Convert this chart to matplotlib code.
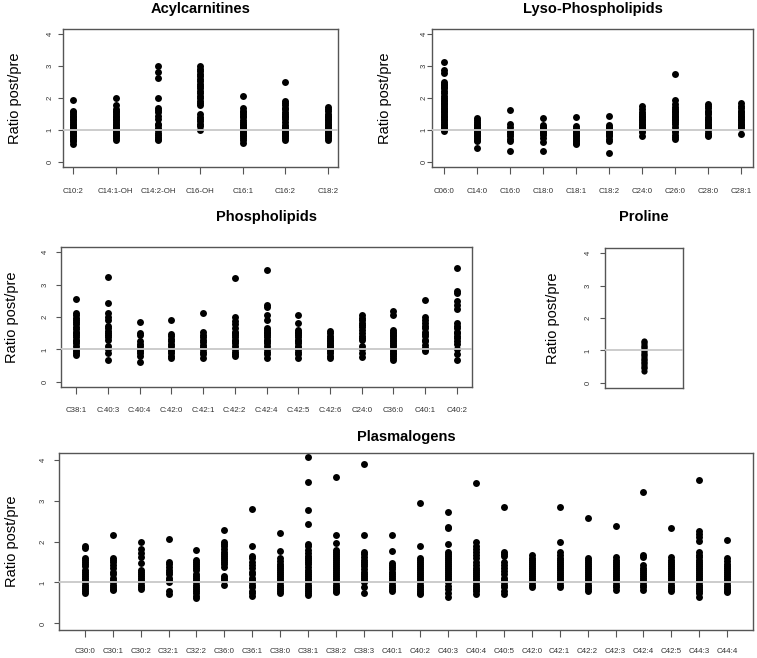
import matplotlib
matplotlib.use('Agg')
import matplotlib.pyplot as plt

plt.rcParams['font.family'] = ['Liberation Sans', 'DejaVu Sans']

# ---------------- data ----------------
acyl_labels = ["C10:2", "C14:1-OH", "C14:2-OH", "C16-OH", "C16:1", "C16:2", "C18:2"]
acyl_values = [
    [1.95, 1.6, 1.55, 1.5, 1.45, 1.4, 1.35, 1.3, 1.25, 1.2, 1.15, 1.1, 1.05, 1.0, 0.95, 0.9, 0.85, 0.8, 0.75, 0.7, 0.65, 0.55],
    [2.0, 1.78, 1.65, 1.6, 1.55, 1.5, 1.45, 1.4, 1.35, 1.3, 1.25, 1.2, 1.15, 1.1, 1.05, 1.0, 0.95, 0.9, 0.85, 0.8, 0.75, 0.68],
    [3.0, 2.8, 2.62, 2.0, 1.7, 1.62, 1.55, 1.45, 1.35, 1.2, 1.15, 1.05, 1.0, 0.9, 0.85, 0.78, 0.72, 0.68],
    [3.0, 2.92, 2.85, 2.75, 2.68, 2.6, 2.52, 2.45, 2.38, 2.3, 2.22, 2.15, 2.07, 2.0, 1.92, 1.85, 1.78, 1.5, 1.42, 1.35, 1.28, 1.2, 1.13, 1.0],
    [2.07, 1.68, 1.6, 1.55, 1.5, 1.45, 1.4, 1.3, 1.25, 1.2, 1.15, 1.1, 1.05, 1.0, 0.95, 0.9, 0.85, 0.8, 0.75, 0.7, 0.6],
    [2.5, 1.92, 1.85, 1.78, 1.7, 1.65, 1.55, 1.5, 1.45, 1.4, 1.35, 1.25, 1.15, 1.1, 1.05, 1.0, 0.95, 0.9, 0.85, 0.8, 0.75, 0.68],
    [1.72, 1.65, 1.58, 1.5, 1.45, 1.4, 1.35, 1.3, 1.25, 1.2, 1.15, 1.1, 1.05, 1.0, 0.95, 0.9, 0.85, 0.8, 0.75, 0.7],
]

lyso_labels = ["C06:0", "C14:0", "C16:0", "C18:0", "C18:1", "C18:2", "C24:0", "C26:0", "C28:0", "C28:1"]
lyso_values = [
    [3.12, 2.88, 2.78, 2.5, 2.45, 2.4, 2.35, 2.3, 2.22, 2.15, 2.05, 2.0, 1.95, 1.9, 1.85, 1.8, 1.75, 1.7, 1.65, 1.6, 1.55, 1.5, 1.45, 1.4, 1.35, 1.3, 1.25, 1.2, 1.15, 1.1, 1.05, 0.98],
    [1.36, 1.3, 1.25, 1.2, 1.15, 1.1, 1.05, 1.0, 0.95, 0.9, 0.85, 0.8, 0.75, 0.7, 0.65, 0.42],
    [1.62, 1.2, 1.1, 1.0, 0.93, 0.88, 0.8, 0.72, 0.65, 0.33],
    [1.38, 1.15, 1.1, 1.05, 1.0, 0.95, 0.9, 0.85, 0.75, 0.62, 0.35],
    [1.4, 1.12, 1.05, 1.0, 0.95, 0.9, 0.85, 0.8, 0.75, 0.7, 0.65, 0.6, 0.55],
    [1.45, 1.15, 1.1, 1.05, 1.0, 0.95, 0.9, 0.85, 0.8, 0.72, 0.65, 0.27],
    [1.74, 1.65, 1.55, 1.5, 1.45, 1.4, 1.35, 1.3, 1.25, 1.2, 1.15, 1.1, 1.05, 1.0, 0.95, 0.8],
    [2.75, 1.93, 1.8, 1.72, 1.65, 1.6, 1.55, 1.5, 1.45, 1.4, 1.35, 1.3, 1.25, 1.2, 1.1, 1.0, 0.95, 0.85, 0.78, 0.72],
    [1.82, 1.75, 1.68, 1.6, 1.55, 1.5, 1.42, 1.35, 1.3, 1.25, 1.2, 1.15, 1.1, 1.05, 1.0, 0.9, 0.85, 0.8],
    [1.85, 1.75, 1.68, 1.6, 1.55, 1.5, 1.45, 1.4, 1.35, 1.3, 1.25, 1.2, 1.15, 1.1, 1.05, 0.88],
]

phospho_labels = ["C38:1", "C:40:3", "C:40:4", "C:42:0", "C:42:1", "C:42:2", "C:42:4",
                  "C:42:5", "C:42:6", "C24:0", "C36:0", "C40:1", "C40:2"]
phospho_values = [
    [2.56, 2.12, 2.05, 1.98, 1.9, 1.85, 1.78, 1.7, 1.62, 1.55, 1.5, 1.45, 1.38, 1.3, 1.25, 1.2, 1.1, 1.0, 0.95, 0.88, 0.82],
    [3.22, 2.42, 2.13, 2.0, 1.9, 1.72, 1.65, 1.58, 1.5, 1.45, 1.38, 1.3, 1.1, 1.0, 0.9, 0.68],
    [1.85, 1.5, 1.45, 1.25, 1.18, 1.1, 1.0, 0.95, 0.88, 0.8, 0.6],
    [1.92, 1.47, 1.4, 1.32, 1.25, 1.18, 1.1, 1.0, 0.95, 0.88, 0.8, 0.74],
    [2.12, 1.53, 1.45, 1.38, 1.3, 1.22, 1.15, 1.08, 1.0, 0.92, 0.85, 0.75],
    [3.19, 2.0, 1.88, 1.78, 1.65, 1.55, 1.5, 1.45, 1.38, 1.3, 1.25, 1.2, 1.1, 1.0, 0.92, 0.85, 0.8],
    [3.45, 2.38, 2.3, 2.05, 1.9, 1.65, 1.6, 1.55, 1.5, 1.45, 1.38, 1.3, 1.25, 1.2, 1.1, 1.0, 0.92, 0.85, 0.75],
    [2.07, 1.83, 1.6, 1.55, 1.5, 1.45, 1.38, 1.3, 1.25, 1.2, 1.1, 1.05, 1.0, 0.92, 0.85, 0.75],
    [1.56, 1.5, 1.42, 1.35, 1.3, 1.25, 1.2, 1.15, 1.1, 1.05, 1.0, 0.95, 0.88, 0.8, 0.75],
    [2.05, 1.98, 1.9, 1.82, 1.75, 1.68, 1.6, 1.5, 1.42, 1.35, 1.28, 1.1, 1.0, 0.9, 0.78],
    [2.17, 2.05, 1.6, 1.55, 1.5, 1.45, 1.4, 1.35, 1.3, 1.25, 1.2, 1.15, 1.1, 1.0, 0.95, 0.9, 0.85, 0.8, 0.72, 0.68],
    [2.54, 2.0, 1.9, 1.8, 1.72, 1.65, 1.55, 1.48, 1.4, 1.3, 1.25, 1.15, 1.05, 1.0, 0.95],
    [3.5, 2.8, 2.73, 2.5, 2.38, 2.25, 1.8, 1.72, 1.65, 1.55, 1.5, 1.42, 1.35, 1.25, 1.18, 1.0, 0.85, 0.68],
]

proline_values = [1.3, 1.25, 1.2, 1.15, 1.1, 1.05, 1.0, 0.95, 0.9, 0.85, 0.8, 0.75, 0.7,
                  0.65, 0.6, 0.55, 0.5, 0.45, 0.35]

plasm_labels = ["C30:0", "C30:1", "C30:2", "C32:1", "C32:2", "C36:0", "C36:1", "C38:0",
                "C38:1", "C38:2", "C38:3", "C40:1", "C40:2", "C40:3", "C40:4", "C40:5",
                "C42:0", "C42:1", "C42:2", "C42:3", "C42:4", "C42:5", "C44:3", "C44:4"]
plasm_values = [
    [1.88, 1.83, 1.6, 1.55, 1.5, 1.45, 1.4, 1.3, 1.25, 1.2, 1.15, 1.1, 1.05, 1.0, 0.95, 0.9, 0.85, 0.8, 0.75],
    [2.16, 1.6, 1.55, 1.5, 1.42, 1.35, 1.25, 1.2, 1.12, 1.05, 1.0, 0.95, 0.9, 0.85, 0.82],
    [2.0, 1.82, 1.72, 1.62, 1.47, 1.3, 1.25, 1.2, 1.15, 1.1, 1.05, 1.0, 0.95, 0.9, 0.85],
    [2.06, 1.5, 1.45, 1.38, 1.3, 1.25, 1.2, 1.12, 1.05, 1.0, 0.8, 0.73],
    [1.8, 1.55, 1.5, 1.45, 1.4, 1.35, 1.3, 1.2, 1.15, 1.1, 1.05, 1.0, 0.95, 0.9, 0.85, 0.8, 0.75, 0.68, 0.62],
    [2.27, 2.0, 1.95, 1.88, 1.82, 1.75, 1.7, 1.65, 1.6, 1.55, 1.5, 1.45, 1.38, 1.15, 1.1, 1.05, 0.95],
    [2.8, 1.9, 1.65, 1.6, 1.5, 1.42, 1.35, 1.25, 1.2, 1.12, 1.05, 1.0, 0.95, 0.88, 0.8, 0.75, 0.68],
    [2.21, 1.78, 1.6, 1.52, 1.45, 1.4, 1.35, 1.3, 1.25, 1.2, 1.15, 1.1, 1.05, 1.0, 0.95, 0.9, 0.85, 0.8, 0.75],
    [4.06, 3.46, 2.78, 2.42, 1.95, 1.88, 1.8, 1.72, 1.65, 1.6, 1.55, 1.5, 1.45, 1.38, 1.3, 1.25, 1.2, 1.15, 1.1, 1.05, 1.0, 0.95, 0.9, 0.85, 0.8, 0.75, 0.7],
    [3.58, 2.17, 1.96, 1.8, 1.75, 1.7, 1.65, 1.6, 1.55, 1.5, 1.45, 1.4, 1.35, 1.3, 1.25, 1.2, 1.15, 1.1, 1.05, 1.0, 0.95, 0.9, 0.85, 0.8, 0.76],
    [3.88, 2.17, 1.75, 1.7, 1.62, 1.55, 1.5, 1.45, 1.4, 1.32, 1.25, 1.2, 1.15, 1.1, 1.05, 1.0, 0.9, 0.74],
    [2.17, 1.76, 1.47, 1.42, 1.38, 1.32, 1.25, 1.2, 1.15, 1.1, 1.05, 1.0, 0.95, 0.9, 0.85, 0.8],
    [2.95, 1.88, 1.6, 1.55, 1.5, 1.45, 1.4, 1.35, 1.3, 1.25, 1.2, 1.15, 1.1, 1.05, 1.0, 0.95, 0.9, 0.85, 0.8, 0.75, 0.71],
    [2.72, 2.35, 2.32, 1.94, 1.75, 1.7, 1.65, 1.6, 1.55, 1.5, 1.45, 1.4, 1.35, 1.3, 1.25, 1.2, 1.15, 1.1, 1.05, 1.0, 0.92, 0.85, 0.75, 0.65],
    [3.43, 1.98, 1.9, 1.82, 1.75, 1.68, 1.6, 1.5, 1.42, 1.35, 1.3, 1.25, 1.2, 1.15, 1.1, 1.05, 1.0, 0.95, 0.9, 0.85, 0.8, 0.72],
    [2.84, 1.75, 1.7, 1.65, 1.5, 1.42, 1.35, 1.28, 1.2, 1.12, 1.05, 1.0, 0.95, 0.88, 0.8, 0.72],
    [1.68, 1.6, 1.55, 1.5, 1.45, 1.4, 1.35, 1.3, 1.25, 1.2, 1.15, 1.1, 1.05, 1.0, 0.95, 0.9],
    [2.84, 1.98, 1.74, 1.68, 1.6, 1.55, 1.5, 1.45, 1.4, 1.35, 1.3, 1.25, 1.2, 1.15, 1.1, 1.05, 1.0, 0.95, 0.9],
    [2.57, 1.6, 1.55, 1.5, 1.45, 1.4, 1.35, 1.3, 1.25, 1.2, 1.15, 1.1, 1.05, 1.0, 0.95, 0.9, 0.85, 0.78],
    [2.38, 1.62, 1.55, 1.5, 1.45, 1.4, 1.35, 1.3, 1.25, 1.2, 1.15, 1.1, 1.05, 1.0, 0.95, 0.9, 0.82],
    [3.2, 1.68, 1.62, 1.42, 1.35, 1.3, 1.25, 1.2, 1.15, 1.1, 1.05, 1.0, 0.95, 0.9, 0.82],
    [2.32, 1.62, 1.55, 1.5, 1.45, 1.4, 1.35, 1.3, 1.25, 1.2, 1.15, 1.1, 1.05, 1.0, 0.95, 0.9, 0.85, 0.78],
    [3.5, 2.25, 2.18, 2.1, 2.02, 1.74, 1.68, 1.62, 1.55, 1.5, 1.45, 1.4, 1.35, 1.3, 1.25, 1.2, 1.15, 1.1, 1.05, 1.0, 0.95, 0.9, 0.85, 0.8, 0.75, 0.65],
    [2.04, 1.6, 1.52, 1.45, 1.4, 1.35, 1.3, 1.25, 1.2, 1.15, 1.1, 1.05, 1.0, 0.95, 0.9, 0.85, 0.8, 0.76],
]

y_ticks = [0, 1, 2, 3, 4]
y_label = "Ratio post/pre"
ref_level = 1

# ---------------- layout ----------------
W, H = 757, 658
fig = plt.figure(figsize=(W / 100, H / 100), dpi=100)
PX = 0.72  # points per pixel


def panel(box, labels, values, title, title_y, ylab_x, xlab_y, ytick_x, ms=25):
    l, t, r, b = box
    ax = fig.add_axes([l / W, 1 - b / H, (r - l) / W, (b - t) / H])
    n = len(values)
    m = 0.04 * (n - 1) if n > 1 else 0.4
    ax.set_xlim(1 - m, n + m)
    ax.set_ylim(-0.16, 4.16)
    for i, vals in enumerate(values):
        ax.scatter([i + 1] * len(vals), vals, s=ms, c='black', linewidths=0, zorder=2)
    ax.axhline(ref_level, color='#c8c8c8', lw=1.3, zorder=3)
    for sp in ax.spines.values():
        sp.set_color('#555555')
        sp.set_linewidth(1.0)
    # y axis
    ax.set_yticks(y_ticks)
    ax.set_yticklabels([str(v) for v in y_ticks], rotation=90, va='center',
                       ha='center', fontsize=5.5, color='#333333')
    ylen = 5
    ax.tick_params(axis='y', length=ylen * PX, width=0.8, color='#555555',
                   pad=(l - ylen - ytick_x - 3) * PX)
    # x axis
    if labels:
        ax.set_xticks(range(1, n + 1))
        ax.set_xticklabels(labels, fontsize=5.7, color='#333333')
        xlen = 7
        ax.tick_params(axis='x', length=xlen * PX, width=0.8, color='#555555',
                       pad=(xlab_y - b - xlen - 4) * PX)
    else:
        ax.set_xticks([])
    fig.text(((l + r) / 2) / W, 1 - title_y / H, title, ha='center', va='center',
             fontsize=10.5, fontweight='bold')
    fig.text(ylab_x / W, 1 - ((t + b) / 2) / H, y_label, rotation=90,
             ha='center', va='center', fontsize=10.5)
    return ax


panel((63, 29, 338, 167), acyl_labels, acyl_values, "Acylcarnitines", 9, 15, 192, 47)
panel((432, 29, 753, 167), lyso_labels, lyso_values, "Lyso-Phospholipids", 9, 385, 192, 421)
panel((61, 247, 472, 387), phospho_labels, phospho_values, "Phospholipids", 217, 12, 411, 42)
panel((605, 248, 683, 388), None, [proline_values], "Proline", 217, 553, 0, 585, ms=20)
panel((59, 453, 753, 630), plasm_labels, plasm_values, "Plasmalogens", 437, 12, 652, 40)

fig.savefig('out.png', dpi=100, facecolor='white')
